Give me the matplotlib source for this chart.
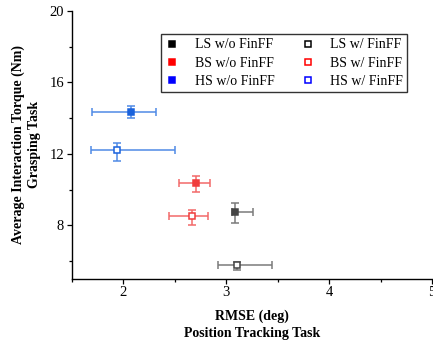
import matplotlib
matplotlib.use("Agg")
import matplotlib.pyplot as plt
from matplotlib.lines import Line2D
from matplotlib.ticker import MultipleLocator

plt.rcParams['font.family'] = ['Liberation Serif', 'DejaVu Serif']

# conditions, mean values and error bars
labels = ['LS w/o FinFF', 'BS w/o FinFF', 'HS w/o FinFF',
          'LS w/ FinFF', 'BS w/ FinFF', 'HS w/ FinFF']
rmse = [3.08, 2.71, 2.07, 3.10, 2.67, 1.94]
rmse_lo = [0.02, 0.17, 0.37, 0.18, 0.23, 0.25]
rmse_hi = [0.18, 0.13, 0.25, 0.34, 0.15, 0.56]
torque = [8.75, 10.34, 14.37, 5.80, 8.50, 12.24]
torque_lo = [0.60, 0.49, 0.34, 0.28, 0.48, 0.65]
torque_hi = [0.52, 0.44, 0.31, 0.13, 0.38, 0.34]

plot_colors = ['#454545', '#f03c3c', '#1a62dc'] * 2
bar_colors = ['#7a7a7a', '#f26a6a', '#4f8ae6'] * 2
legend_colors = ['black', 'red', 'blue'] * 2
hollow = [False, False, False, True, True, True]

fig = plt.figure(figsize=(4.33, 3.43), dpi=100)
ax = fig.add_axes([0.166, 0.187, 0.832, 0.781])

for i in range(len(labels)):
    ax.errorbar(rmse[i], torque[i],
                xerr=[[rmse_lo[i]], [rmse_hi[i]]],
                yerr=[[torque_lo[i]], [torque_hi[i]]],
                fmt='none', ecolor=bar_colors[i], elinewidth=1.1,
                capsize=3, capthick=1.1, zorder=2)
    ax.plot(rmse[i], torque[i], marker='s', ms=5, ls='none',
            mfc='white' if hollow[i] else plot_colors[i],
            mec=plot_colors[i], mew=1.1, zorder=3)

handles = [Line2D([], [], marker='s', ls='none', ms=5, mew=1.1,
                  mfc='white' if hollow[i] else legend_colors[i],
                  mec=legend_colors[i])
           for i in range(len(labels))]
leg = ax.legend(handles, labels, ncol=2, loc='upper right',
                bbox_to_anchor=(0.93, 0.913), fontsize=10,
                frameon=True, fancybox=False, edgecolor='black',
                handlelength=1.0, handletextpad=1.1, columnspacing=1.9,
                labelspacing=0.38, borderpad=0.3, borderaxespad=0)
leg.get_frame().set_linewidth(1.0)

ax.set_xlim(1.5, 5)
ax.set_ylim(5, 20)
ax.xaxis.set_major_locator(MultipleLocator(1))
ax.xaxis.set_minor_locator(MultipleLocator(0.5))
ax.yaxis.set_major_locator(MultipleLocator(4))
ax.yaxis.set_minor_locator(MultipleLocator(2))
ax.set_yticks([8, 12, 16, 20])
ax.tick_params(which='major', direction='out', length=3.5, width=0.9, labelsize=10.5, pad=2)
ax.tick_params(which='minor', direction='out', length=2.5, width=0.9)
ax.spines['top'].set_visible(False)
ax.spines['right'].set_visible(False)
for s in ['left', 'bottom']:
    ax.spines[s].set_linewidth(1.0)

ax.set_xlabel('RMSE (deg)\nPosition Tracking Task', fontsize=10, fontweight='bold',
              linespacing=1.45, labelpad=7)
ax.set_ylabel('Average Interaction Torque (Nm)\nGrasping Task', fontsize=10,
              fontweight='bold', linespacing=1.3, labelpad=6)

fig.savefig('out.png', dpi=100)
